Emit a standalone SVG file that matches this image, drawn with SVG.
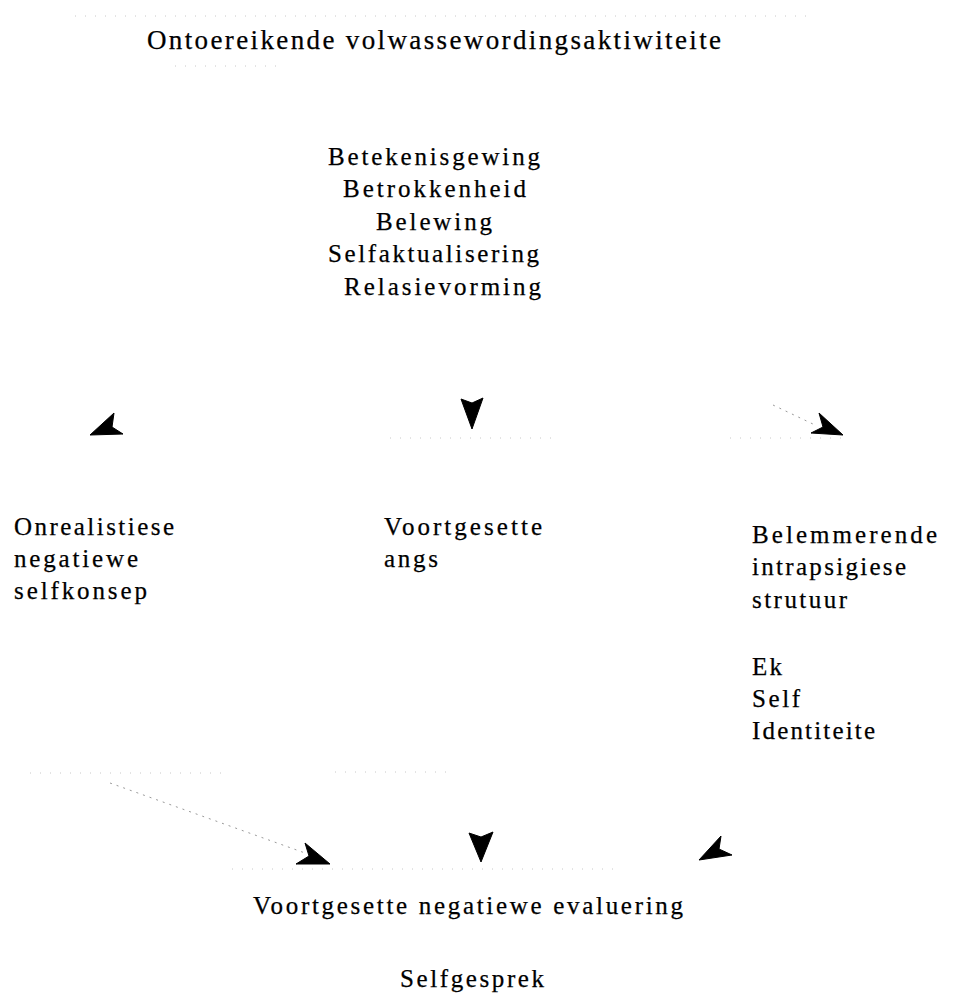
<svg xmlns="http://www.w3.org/2000/svg" width="961" height="1007" viewBox="0 0 961 1007">
<style>
.t{font-family:"Liberation Serif","Times New Roman",serif;font-size:25px;fill:#000;stroke:#000;stroke-width:0.25}
.title{font-size:27px}
.head{fill:#000;stroke:#000;stroke-width:1;stroke-linejoin:round}
.faint{stroke:#c8c8c8;stroke-width:1;stroke-dasharray:1 9;fill:none}
.conn{stroke:#999;stroke-width:1;stroke-dasharray:2 5;fill:none}
</style>
<rect width="961" height="1007" fill="#fff"/>
<g id="scan-marks">
<line class="faint" x1="75" y1="16" x2="810" y2="16"/>
<line class="faint" x1="175" y1="66" x2="285" y2="66"/>
<line class="faint" x1="390" y1="438" x2="560" y2="438"/>
<line class="faint" x1="730" y1="438" x2="850" y2="438"/>
<line class="faint" x1="30" y1="773" x2="230" y2="773"/>
<line class="faint" x1="335" y1="772" x2="450" y2="772"/>
<line class="faint" x1="232" y1="869" x2="620" y2="869"/>
</g>
<g id="connectors">
<line class="conn" x1="110" y1="783" x2="305" y2="853"/>
<line class="conn" x1="773" y1="405" x2="815" y2="425"/>
<polygon class="head" points="90,435 114,413 112,427 123,434"/>
<polygon class="head" points="461,399 472,403 483,398 472,429"/>
<polygon class="head" points="843,435 819,413 823,427 811,433"/>
<polygon class="head" points="330,864 305,843 309,856 296,864"/>
<polygon class="head" points="469,833 481,837 493,832 481,862"/>
<polygon class="head" points="699,860 721,836 719,849 732,855"/>
</g>
<g id="node-top">
<text class="t title" x="147" y="49" textLength="574" lengthAdjust="spacing">Ontoereikende volwassewordingsaktiwiteite</text>
<text class="t" x="328" y="165" textLength="212" lengthAdjust="spacing">Betekenisgewing</text>
<text class="t" x="343" y="197" textLength="183" lengthAdjust="spacing">Betrokkenheid</text>
<text class="t" x="376" y="230" textLength="116" lengthAdjust="spacing">Belewing</text>
<text class="t" x="328" y="262" textLength="211" lengthAdjust="spacing">Selfaktualisering</text>
<text class="t" x="344" y="295" textLength="197" lengthAdjust="spacing">Relasievorming</text>
</g>
<g id="node-left">
<text class="t" x="14" y="535" textLength="160" lengthAdjust="spacing">Onrealistiese</text>
<text class="t" x="14" y="567" textLength="124" lengthAdjust="spacing">negatiewe</text>
<text class="t" x="14" y="599" textLength="133" lengthAdjust="spacing">selfkonsep</text>
</g>
<g id="node-center">
<text class="t" x="384" y="535" textLength="158" lengthAdjust="spacing">Voortgesette</text>
<text class="t" x="384" y="567" textLength="54" lengthAdjust="spacing">angs</text>
</g>
<g id="node-right">
<text class="t" x="752" y="543" textLength="185" lengthAdjust="spacing">Belemmerende</text>
<text class="t" x="752" y="575" textLength="154" lengthAdjust="spacing">intrapsigiese</text>
<text class="t" x="752" y="608" textLength="95" lengthAdjust="spacing">strutuur</text>
<text class="t" x="752" y="675" textLength="30" lengthAdjust="spacing">Ek</text>
<text class="t" x="752" y="707" textLength="48" lengthAdjust="spacing">Self</text>
<text class="t" x="752" y="739" textLength="123" lengthAdjust="spacing">Identiteite</text>
</g>
<g id="node-bottom">
<text class="t" x="253" y="914" textLength="430" lengthAdjust="spacing">Voortgesette negatiewe evaluering</text>
<text class="t" x="400" y="987" textLength="144" lengthAdjust="spacing">Selfgesprek</text>
</g>
</svg>
